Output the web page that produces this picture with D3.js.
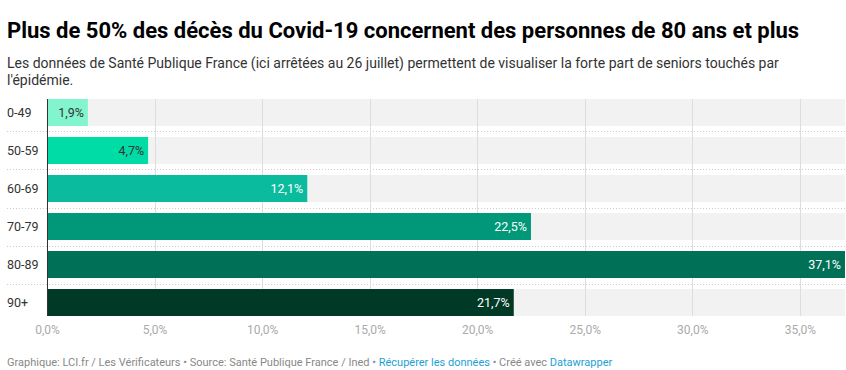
<!DOCTYPE html>
<html>
<head>
<meta charset="utf-8">
<script src="https://cdn.jsdelivr.net/npm/d3@7"></script>
<style>
  body { margin: 0; background: #fff; font-family: Roboto, sans-serif; }
  .title { font-weight: 700; font-size: 22px; fill: #000; }
  .desc { font-size: 14px; fill: #333; }
  .foot { font-size: 11px; fill: #888; }
  .foot .lnk { fill: #1d9fd3; }
  .axis--x text { font-size: 12px; fill: #aaa; }
  .cat { font-size: 12.5px; fill: #333; }
</style>
</head>
<body>
<svg id="chart" width="846" height="370"></svg>
<script>
var ages = ["0-49", "50-59", "60-69", "70-79", "80-89", "90+"];
var shares = [1.9, 4.7, 12.1, 22.5, 37.1, 21.7];
var colors = ["#82f5cf", "#00dca6", "#0abb9e", "#009879", "#007157", "#003a26"];
var darkText = [true, true, false, false, false, false];
var ticks = [0, 5, 10, 15, 20, 25, 30, 35];

var svg = d3.select("#chart"),
    margin = {top: 99, right: 1, bottom: 54, left: 47},
    width = +svg.attr("width") - margin.left - margin.right,
    plotH = 217;

var fmt = function(v) { return d3.format(".1f")(v).replace(".", ",") + "%"; };

var x = d3.scaleLinear().domain([0, 37.1]).range([0, width]),
    y = d3.scaleBand().domain(ages).range([0, plotH]).paddingInner(0.29).paddingOuter(0);

svg.append("text").attr("class", "title").attr("x", 7).attr("y", 38)
  .text("Plus de 50% des décès du Covid-19 concernent des personnes de 80 ans et plus");
svg.append("text").attr("class", "desc").attr("x", 7).attr("y", 68)
  .text("Les données de Santé Publique France (ici arrêtées au 26 juillet) permettent de visualiser la forte part de seniors touchés par");
svg.append("text").attr("class", "desc").attr("x", 7).attr("y", 85)
  .text("l'épidémie.");

var g = svg.append("g")
    .attr("transform", "translate(" + margin.left + "," + margin.top + ")");

var data = ages.map(function(a, i) {
  return {age: a, value: shares[i], color: colors[i], dark: darkText[i]};
});

// grey background rows
g.selectAll(".bg")
  .data(data)
  .enter().append("rect")
    .attr("class", "bg")
    .attr("x", 0)
    .attr("y", function(d) { return y(d.age); })
    .attr("width", width)
    .attr("height", y.bandwidth())
    .attr("fill", "#f2f2f2");

// dotted separators
var step = y.step();
g.selectAll(".sep")
  .data(ages.slice(1))
  .enter().append("line")
    .attr("x1", -40)
    .attr("x2", width)
    .attr("y1", function(d) { return Math.round(y(d) - (step - y.bandwidth()) / 2) + 0.5; })
    .attr("y2", function(d) { return Math.round(y(d) - (step - y.bandwidth()) / 2) + 0.5; })
    .attr("stroke", "#ccc")
    .attr("stroke-dasharray", "1,2");

// grid
g.selectAll(".grid")
  .data(ticks.slice(1))
  .enter().append("line")
    .attr("x1", function(d) { return Math.round(x(d)) + 0.5; })
    .attr("x2", function(d) { return Math.round(x(d)) + 0.5; })
    .attr("y1", 0)
    .attr("y2", plotH)
    .attr("stroke", "#ddd");

g.selectAll(".bar")
  .data(data)
  .enter().append("rect")
    .attr("class", "bar")
    .attr("x", 0)
    .attr("y", function(d) { return y(d.age); })
    .attr("width", function(d) { return x(d.value); })
    .attr("height", y.bandwidth())
    .attr("fill", function(d) { return d.color; });

g.selectAll(".val")
  .data(data)
  .enter().append("text")
    .attr("x", function(d) { return x(d.value) - 4; })
    .attr("y", function(d) { return y(d.age) + y.bandwidth() / 2; })
    .attr("dy", "0.35em")
    .attr("text-anchor", "end")
    .style("font-size", "12.5px")
    .style("fill", function(d) { return d.dark ? "#333" : "#fff"; })
    .text(function(d) { return fmt(d.value); });

g.selectAll(".cat")
  .data(data)
  .enter().append("text")
    .attr("class", "cat")
    .attr("x", -40)
    .attr("y", function(d) { return y(d.age) + y.bandwidth() / 2; })
    .attr("dy", "0.35em")
    .text(function(d) { return d.age; });

// y axis line
g.append("line")
    .attr("x1", 0.5).attr("x2", 0.5)
    .attr("y1", 0).attr("y2", plotH)
    .attr("stroke", "#333");

var xAxis = g.append("g")
    .attr("class", "axis axis--x")
    .attr("transform", "translate(0," + (plotH + 3) + ")")
    .call(d3.axisBottom(x).tickValues(ticks).tickFormat(fmt).tickSize(0).tickPadding(6));
xAxis.select(".domain").remove();
xAxis.selectAll("text").style("font-family", "Roboto, sans-serif");

var foot = svg.append("text").attr("class", "foot").attr("x", 7).attr("y", 366);
foot.append("tspan").text("Graphique: LCI.fr / Les Vérificateurs • Source: Santé Publique France / Ined • ");
foot.append("tspan").attr("class", "lnk").text("Récupérer les données");
foot.append("tspan").text(" • Créé avec ");
foot.append("tspan").attr("class", "lnk").text("Datawrapper");
</script>
</body>
</html>
